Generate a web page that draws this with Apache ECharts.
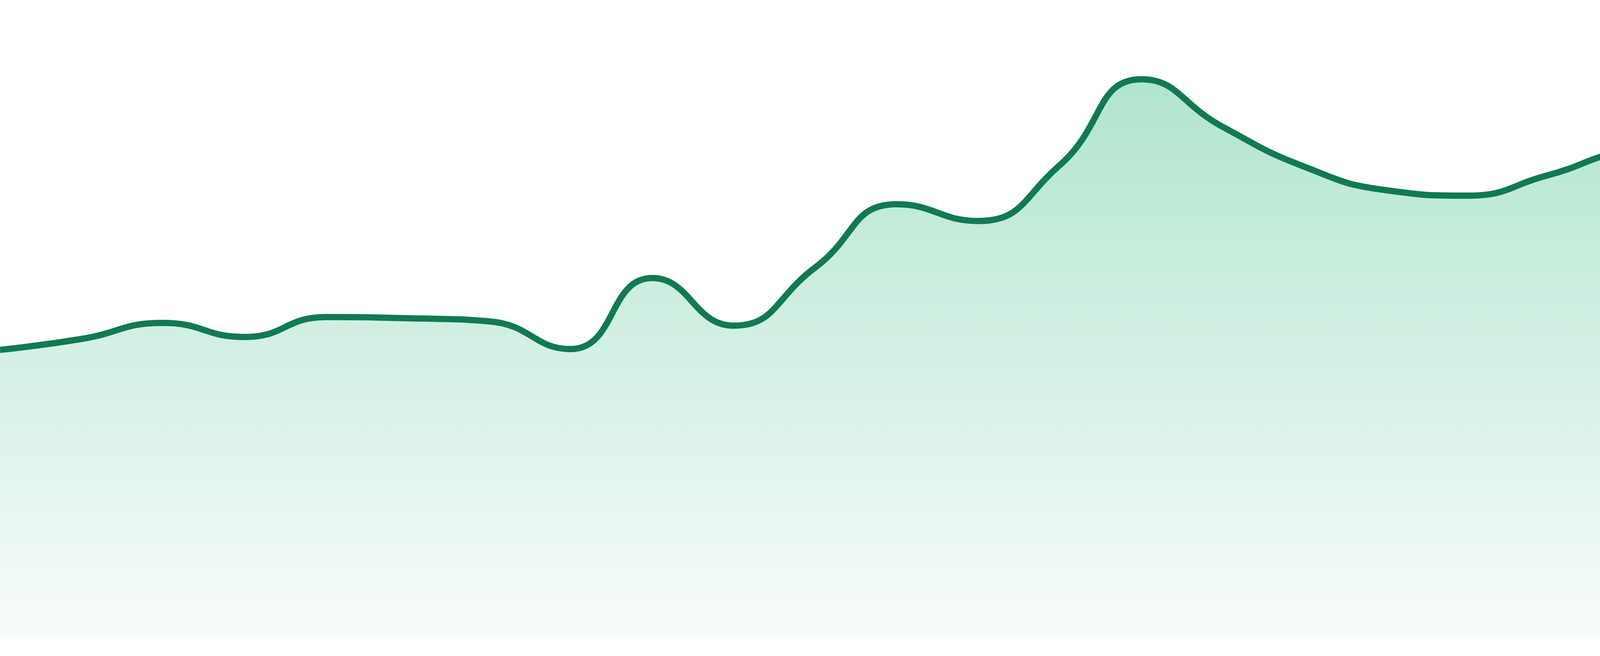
<!DOCTYPE html>
<html>
<head>
<meta charset="utf-8">
<script src="https://cdn.jsdelivr.net/npm/echarts@6/dist/echarts.min.js"></script>
<style>
html,body{margin:0;padding:0;background:#ffffff;}
#chart{width:4800px;height:1680px;}
</style>
</head>
<body>
<div id="chart"></div>
<script>
const categories = ['1','2','3','4','5','6','7','8','9','10','11','12','13','14','15','16','17','18','19','20','21','22','23','24'];
const values = [736, 764, 805, 769, 820, 817, 809, 738, 920, 798, 947, 1109, 1066, 1209, 1429, 1307, 1205, 1145, 1131, 1184, 1240, 1087, 1048, 1035];

const chart = echarts.init(document.getElementById('chart'));
chart.setOption({
  animation: false,
  backgroundColor: '#ffffff',
  grid: { left: 0, right: 0, top: 0, bottom: 48 },
  xAxis: {
    type: 'category',
    data: categories,
    boundaryGap: false,
    show: false
  },
  yAxis: {
    type: 'value',
    min: 0,
    max: 1632,
    show: false
  },
  series: [{
    type: 'line',
    data: values,
    smooth: true,
    symbol: 'none',
    lineStyle: { color: '#117a50', width: 16 },
    areaStyle: {
      opacity: 1,
      color: new echarts.graphic.LinearGradient(0, 0, 0, 1, [
        { offset: 0, color: '#b0e5cf' },
        { offset: 1, color: '#f8fcfa' }
      ])
    }
  }]
});
</script>
</body>
</html>
